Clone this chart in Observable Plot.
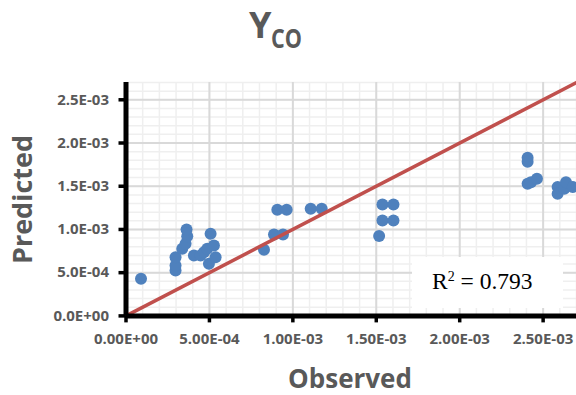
<!DOCTYPE html>
<html>
<head>
<meta charset="utf-8">
<script src="https://cdn.jsdelivr.net/npm/d3@7"></script>
<script src="https://cdn.jsdelivr.net/npm/@observablehq/plot@0.6"></script>
<style>
  body { margin: 0; background: white; }
  #wrap { position: relative; width: 576px; height: 395px; background: white; overflow: hidden; font-family: "Open Sans", sans-serif; color: #595959; }
  #chart { position: absolute; left: 0; top: 60px; }
  .abs { position: absolute; white-space: nowrap; }
  #title { left: 249px; top: 7px; font-weight: bold; font-size: 36px; line-height: 36px; }
  #title span { display: inline-block; font-size: 27px; line-height: 27px; vertical-align: -10px; transform: scaleX(0.8); transform-origin: left center; }
  #ylab { left: -79px; top: 186px; width: 200px; text-align: center; font-weight: bold; font-size: 27px; line-height: 27px; transform: rotate(-90deg); }
  #xlab { left: 250px; top: 365px; width: 200px; text-align: center; font-weight: bold; font-size: 26px; line-height: 26px; }
  #r2 { left: 412px; top: 257px; width: 151px; height: 51px; background: white; box-sizing: border-box; padding-left: 20px; padding-top: 12.5px; font-family: "Liberation Serif", "Times New Roman", serif; font-size: 23.5px; line-height: 23.5px; color: #000; }
  #r2 sup { font-size: 14px; vertical-align: 8px; line-height: 0; }
</style>
</head>
<body>
<div id="wrap">
  <div class="abs" id="title">Y<span>CO</span></div>
  <div id="chart"></div>
  <div class="abs" id="ylab">Predicted</div>
  <div class="abs" id="xlab">Observed</div>
  <div class="abs" id="r2">R<sup>2</sup> = 0.793</div>
</div>
<script>
// Observed vs predicted values
const observed = [
  0.090,
  0.297, 0.297, 0.297, 0.337, 0.357, 0.367, 0.363, 0.407, 0.447,
  0.467, 0.487, 0.497, 0.507, 0.527, 0.537,
  0.827, 0.887, 0.941, 0.907, 0.963, 1.107, 1.173,
  1.517, 1.537, 1.603, 1.537, 1.603,
  2.407, 2.407, 2.407, 2.427, 2.463, 2.587, 2.587, 2.627, 2.637, 2.677
].map(v => v * 1e-3);
const predicted = [
  0.429,
  0.525, 0.583, 0.679, 0.777, 0.834, 0.922, 1.000, 0.699, 0.699,
  0.737, 0.777, 0.603, 0.950, 0.815, 0.679,
  0.765, 0.942, 0.942, 1.229, 1.229, 1.240, 1.240,
  0.925, 1.104, 1.104, 1.289, 1.289,
  1.829, 1.782, 1.529, 1.547, 1.587, 1.490, 1.413, 1.471, 1.547, 1.490
].map(v => v * 1e-3);

// 1:1 reference line end points
const refLine = [0, 2.7e-3];

// Axis ticks and labels
const xTicks = [0, 5e-4, 1e-3, 1.5e-3, 2e-3, 2.5e-3];
const xTickLabels = ["0.00E+00", "5.00E-04", "1.00E-03", "1.50E-03", "2.00E-03", "2.50E-03"];
const yTicks = [0, 5e-4, 1e-3, 1.5e-3, 2e-3, 2.5e-3];
const yTickLabels = ["0.0E+00", "5.0E-04", "1.0E-03", "1.5E-03", "2.0E-03", "2.5E-03"];
const minorTicks = d3.range(0, 28).map(i => i * 1e-4);

const points = observed.map((o, i) => ({observed: o, predicted: predicted[i]}));
const ref = refLine.map(v => ({observed: v, predicted: v}));

const axisStyle = {
  fontSize: 15, fontWeight: "bold", fill: "#595959", stroke: "black",
  strokeWidth: 3.5, tickSize: 7, label: null
};

const chart = Plot.plot({
  width: 576,
  height: 335,
  marginLeft: 125.5,
  marginRight: 0,
  marginTop: 22,
  marginBottom: 79.6,
  style: {fontFamily: "'Open Sans', sans-serif", background: "white"},
  x: {domain: [0, 2.7e-3], axis: null},
  y: {domain: [0, 2.7e-3], axis: null},
  marks: [
    Plot.gridX(minorTicks, {stroke: "#efefef", strokeOpacity: 1, strokeWidth: 1.5}),
    Plot.gridY(minorTicks, {stroke: "#efefef", strokeOpacity: 1, strokeWidth: 1.5}),
    Plot.gridX(xTicks, {stroke: "#d9d9d9", strokeOpacity: 1, strokeWidth: 2}),
    Plot.gridY(yTicks, {stroke: "#d9d9d9", strokeOpacity: 1, strokeWidth: 2}),
    Plot.dot(points, {x: "observed", y: "predicted", r: 6, fill: "#4F81BD", stroke: "none"}),
    Plot.line(ref, {x: "observed", y: "predicted", stroke: "#C0504D", strokeWidth: 3.5}),
    Plot.ruleX([0], {stroke: "black", strokeWidth: 5}),
    Plot.ruleY([0], {stroke: "black", strokeWidth: 5}),
    Plot.axisX(xTicks, {...axisStyle, tickPadding: 10, tickFormat: (d, i) => xTickLabels[i]}),
    Plot.axisY(yTicks, {...axisStyle, tickPadding: 10, tickFormat: (d, i) => yTickLabels[i]})
  ]
});
document.getElementById("chart").appendChild(chart);
</script>
</body>
</html>
